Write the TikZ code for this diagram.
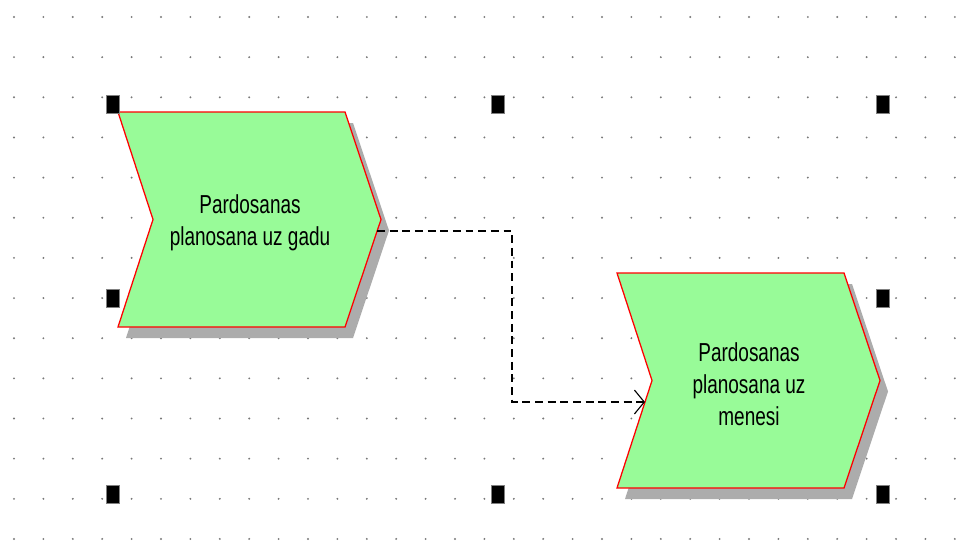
\documentclass[tikz,border=0pt]{standalone}
\usepackage{fontspec}
\setmainfont{Liberation Sans}
\usepackage{xcolor}
\usetikzlibrary{arrows.meta}

\definecolor{stepgreen}{RGB}{152,251,152}
\definecolor{shadowgray}{RGB}{172,172,172}
\definecolor{dotgray}{RGB}{120,120,120}

% text of a process step, stretched to the tall grid
\newcommand\steplabel[1]{\scalebox{1}[1.37]{\parbox{6cm}{\centering
  \fontsize{13.5}{16.6}\selectfont #1}}}

\tikzset{
  stepbody/.style={fill=stepgreen, draw=red, line width=0.9pt},
  stepshadow/.style={fill=shadowgray},
  handle/.style={fill=black, draw=gray, line width=0.4pt},
  flow/.style={dashed, dash pattern=on 5.6pt off 3.4pt, line width=1.05pt,
               -{Straight Barb[length=7pt, width=17pt, line width=0.8pt]}}
}

\begin{document}
\begin{tikzpicture}[x=0.025cm, y=-0.025cm]
  \fill[white] (0,0) rectangle (977,540);
  \useasboundingbox (0,0) rectangle (977,540);

  % dotted grid
  \foreach \i in {0,...,32}
    \foreach \j in {0,...,13}
      \fill[dotgray] ({14+29.4*\i},{17+40.15*\j}) circle (0.75pt);

  % chevron step: #1 name, #2 left, #3 top, #4 text
  \def\chevron#1#2#3#4{
    \begin{scope}[shift={(#2,#3)}]
      \fill[stepshadow] (8,11) -- (235,11) -- (271,118.5) -- (235,226)
        -- (8,226) -- (43,118.5) -- cycle;
      \draw[stepbody] (0,0) -- (227,0) -- (263,107.5) -- (227,215)
        -- (0,215) -- (35,107.5) -- cycle;
      \coordinate (#1-out) at (259,119);
      \coordinate (#1-in) at (28,129);
      \node (#1) at (132,111) {\steplabel{#4}};
    \end{scope}
  }
  \chevron{yearplan}{118}{112}{Pardosanas\\planosana uz gadu}
  \chevron{monthplan}{617}{273}{Pardosanas\\planosana uz\\menesi}

  \coordinate (elbow) at (512,316);
  \draw[flow] (yearplan-out) -| (elbow) |- (monthplan-in);

  % selection handles
  \foreach \hx/\hy in {113/104, 498/104, 883/104, 113/298, 883/298,
                       113/494, 498/494, 883/494}
    \filldraw[handle] (\hx-6.5,\hy-9) rectangle (\hx+6.5,\hy+9);
\end{tikzpicture}
\end{document}
